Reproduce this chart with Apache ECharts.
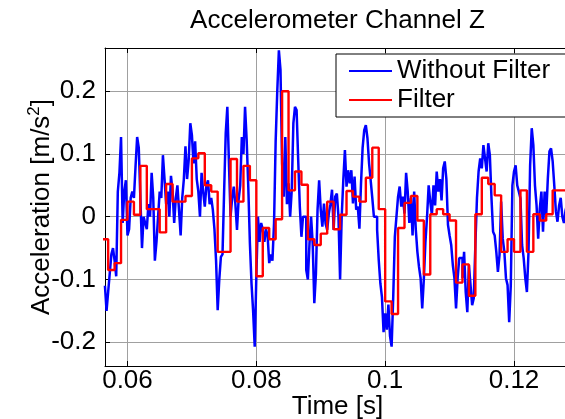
<!DOCTYPE html>
<html>
<head>
<meta charset="utf-8">
<script src="https://cdn.jsdelivr.net/npm/echarts@6/dist/echarts.min.js"></script>
<style>
  html, body { margin: 0; padding: 0; background: #fff; }
  #chart { width: 565px; height: 419px; }
</style>
</head>
<body>
<div id="chart"></div>
<script>
// Raw accelerometer samples (channel Z), one every 0.25 ms starting at 56.5 ms.
const rawStart = 0.0565;
const rawStep = 0.00025;
const rawValues = [
  -0.11, -0.15,
  -0.12, -0.09, -0.06, -0.05,
  -0.07, -0.095, 0.04, 0.07,
  0.127, -0.01, 0.04, 0.058,
  -0.03, -0.02, 0.03, 0.04,
  0.03, 0.08, 0.127, 0.11,
  0.03, -0.05, 0.0, -0.01,
  -0.02, 0.02, 0.0, 0.07,
  0.03, -0.07, -0.04, 0.0,
  0.04, 0.03, 0.098, 0.06,
  0.02, 0.04, 0.0, 0.065,
  0.04, -0.01, 0.03, 0.05,
  0.01, -0.03, 0.03, 0.06,
  0.112, 0.06, 0.09, 0.149,
  0.13, 0.085, 0.12, 0.06,
  0.04, 0.0, 0.07, 0.04,
  0.016, 0.05, 0.058, 0.02,
  0.03, 0.011, -0.02, -0.07,
  -0.149, -0.10, -0.064, -0.06,
  0.04, 0.133, 0.175, 0.085,
  0.0, 0.03, 0.048, 0.02,
  -0.021, 0.027, 0.05, 0.127,
  0.1, 0.175, 0.122, 0.048,
  -0.042, -0.106, -0.15, -0.207,
  -0.096, 0.0, -0.04, -0.01,
  -0.02, -0.04, -0.02, -0.03,
  -0.074, -0.06, -0.07, -0.01,
  0.12, 0.2, 0.265, 0.234,
  0.085, 0.032, 0.127, 0.02,
  0.053, 0.0, 0.043, 0.149,
  0.175, 0.17, 0.09, 0.016,
  -0.032, 0.0, 0.0, -0.085,
  -0.1, -0.043, 0.0, -0.043,
  -0.138, -0.091, 0.01, 0.058,
  0.011, -0.016, 0.021, -0.011,
  -0.021, 0.005, 0.02, 0.043,
  -0.021, 0.032, 0.037, 0.0,
  -0.1, 0.0, 0.058, 0.106,
  0.048, 0.074, 0.053, 0.074,
  0.021, 0.064, 0.011, 0.016,
  -0.019, 0.053, 0.11, 0.138,
  0.146, 0.125, 0.085, 0.058,
  0.03, 0.0, 0.0, -0.021,
  -0.069, -0.106, -0.128, -0.184,
  -0.154, -0.18, -0.14, -0.19,
  -0.207, -0.128, -0.032, 0.0,
  0.032, 0.048, 0.016, 0.032,
  0.005, 0.07, 0.04, -0.01,
  0.03, -0.03, 0.04, -0.02,
  -0.056, -0.08, -0.098, -0.146,
  -0.1, -0.04, 0.0, 0.05,
  0.024, 0.003, 0.05, 0.018,
  0.072, 0.04, 0.06, 0.026,
  0.077, 0.088, 0.06, -0.013,
  -0.03, -0.045, -0.077, -0.098,
  -0.146, -0.098, -0.066, -0.066,
  -0.098, -0.056, -0.12, -0.152,
  -0.077, -0.109, -0.141, -0.13,
  -0.045, 0.03, 0.072, 0.093,
  0.077, 0.114, 0.093, 0.072,
  0.117, 0.098, 0.03, -0.024,
  -0.03, -0.056, -0.088, -0.061,
  0.024, -0.035, -0.056, -0.098,
  -0.109, -0.168, -0.109, 0.05,
  0.072, 0.082, 0.05, 0.04,
  0.029, -0.045, -0.066, -0.098,
  -0.12, -0.056, 0.082, 0.141,
  0.114, 0.05, 0.018, -0.035,
  0.013, 0.04, -0.024, 0.04,
  0.003, 0.061, 0.104, 0.109,
  0.088, 0.05, 0.008, -0.008,
  0.018, 0.03, 0.0, -0.01,
  0.01, 0.02, 0.02, 0.02
];

// Filter output, held for 1 ms per value starting at 56 ms.
const filterStart = 0.056;
const filterStep = 0.001;
const filterValues = [
  -0.036, -0.085, -0.074, -0.005, 0.024,
  0.003, 0.081, 0.012, 0.012, -0.025,
  0.052, 0.024, 0.024, 0.033, 0.093,
  0.101, 0.05, 0.04, -0.056, -0.056,
  0.092, 0.024, 0.081, 0.058, -0.095,
  -0.018, -0.036, -0.004, 0.2, 0.042,
  0.072, 0.051, -0.036, -0.045, -0.027,
  0.024, -0.02, 0.003, 0.041, 0.032,
  0.024, 0.062, 0.11, 0.012, -0.135,
  -0.155, -0.018, 0.022, 0.033, -0.006,
  -0.092, 0.004, 0.012, 0.004, -0.006,
  -0.105, -0.076, -0.126, 0.004, 0.062,
  0.052, 0.034, -0.056, -0.036, -0.056,
  0.042, -0.056, 0.004, -0.006, 0.004,
  0.042, 0.042, 0.042
];

// Axis ranges and tick positions
const xRange = [0.05651, 0.12869];
const yRange = [-0.2379, 0.2688];
const xTicks = [0.06, 0.08, 0.1, 0.12];
const yTicks = [-0.2, -0.1, 0, 0.1, 0.2];

const seriesNames = ['Without Filter', 'Filter'];
const titleText = 'Accelerometer Channel Z';
const xName = 'Time [s]';

const FONT = "'Liberation Sans', Arial, Helvetica, sans-serif";
const FS = 26;

const rawData = rawValues.map((v, i) => [+(rawStart + i * rawStep).toFixed(6), v]);
const filterData = filterValues.map((v, i) => [+(filterStart + i * filterStep).toFixed(6), v]);

const chart = echarts.init(document.getElementById('chart'), null, { renderer: 'canvas' });

const textBase = { color: '#000', fontFamily: FONT, fontSize: FS };

chart.setOption({
  animation: false,
  backgroundColor: '#fff',
  title: {
    text: titleText,
    left: 337.5,
    top: 8,
    padding: 0,
    textAlign: 'center',
    textStyle: Object.assign({ fontWeight: 'normal' }, textBase)
  },
  legend: {
    orient: 'vertical',
    left: 336,
    top: 54,
    padding: [4, 20, 4, 13],
    itemGap: 3,
    itemWidth: 43,
    itemHeight: 2,
    selectedMode: false,
    backgroundColor: '#fff',
    borderColor: '#000',
    borderWidth: 1,
    borderRadius: 0,
    textStyle: textBase,
    data: seriesNames.map(n => ({ name: n, icon: 'rect' }))
  },
  // Fixed plot rectangle; the right edge runs just past the canvas.
  grid: { left: 105, top: 48, right: -5, bottom: 53, containLabel: false, outerBoundsMode: 'none' },
  xAxis: [{
    type: 'value',
    position: 'bottom',
    min: xRange[0],
    max: xRange[1],
    name: xName,
    nameLocation: 'middle',
    nameGap: 28,
    nameMoveOverlap: false,
    nameTextStyle: textBase,
    axisLine: { show: true, onZero: false, lineStyle: { color: '#000', width: 1 } },
    axisTick: { show: true, inside: true, length: 5, customValues: xTicks, lineStyle: { color: '#000' } },
    axisLabel: Object.assign({ customValues: xTicks, margin: 2 }, textBase),
    splitLine: { show: true, lineStyle: { color: '#a0a0a0', width: 1 } }
  }, {
    type: 'value',
    position: 'top',
    min: xRange[0],
    max: xRange[1],
    axisLine: { show: true, onZero: false, lineStyle: { color: '#000', width: 1 } },
    axisTick: { show: true, inside: true, length: 5, customValues: xTicks, lineStyle: { color: '#000' } },
    axisLabel: { show: false },
    splitLine: { show: false }
  }],
  yAxis: [{
    type: 'value',
    position: 'left',
    min: yRange[0],
    max: yRange[1],
    name: '{a|Acceleration [m/s}{sup|2}{a|]}',
    nameLocation: 'middle',
    nameGap: 47,
    nameMoveOverlap: false,
    nameTextStyle: {
      rich: {
        a: { fontSize: FS, color: '#000', fontFamily: FONT, lineHeight: 32 },
        sup: { fontSize: 17, color: '#000', fontFamily: FONT, lineHeight: 17, verticalAlign: 'top' }
      }
    },
    axisLine: { show: true, onZero: false, lineStyle: { color: '#000', width: 1 } },
    axisTick: { show: true, inside: true, length: 5, customValues: yTicks, lineStyle: { color: '#000' } },
    axisLabel: Object.assign({ customValues: yTicks, margin: 9 }, textBase),
    splitLine: { show: true, lineStyle: { color: '#a0a0a0', width: 1 } }
  }],
  series: [{
    name: seriesNames[0],
    type: 'line',
    step: 'end',
    symbol: 'none',
    data: rawData,
    lineStyle: { color: '#0000ff', width: 2.5 },
    itemStyle: { color: '#0000ff' },
    z: 2
  }, {
    name: seriesNames[1],
    type: 'line',
    step: 'end',
    symbol: 'none',
    data: filterData,
    lineStyle: { color: '#ff0000', width: 2.4 },
    itemStyle: { color: '#ff0000' },
    z: 3
  }]
});
</script>
</body>
</html>
